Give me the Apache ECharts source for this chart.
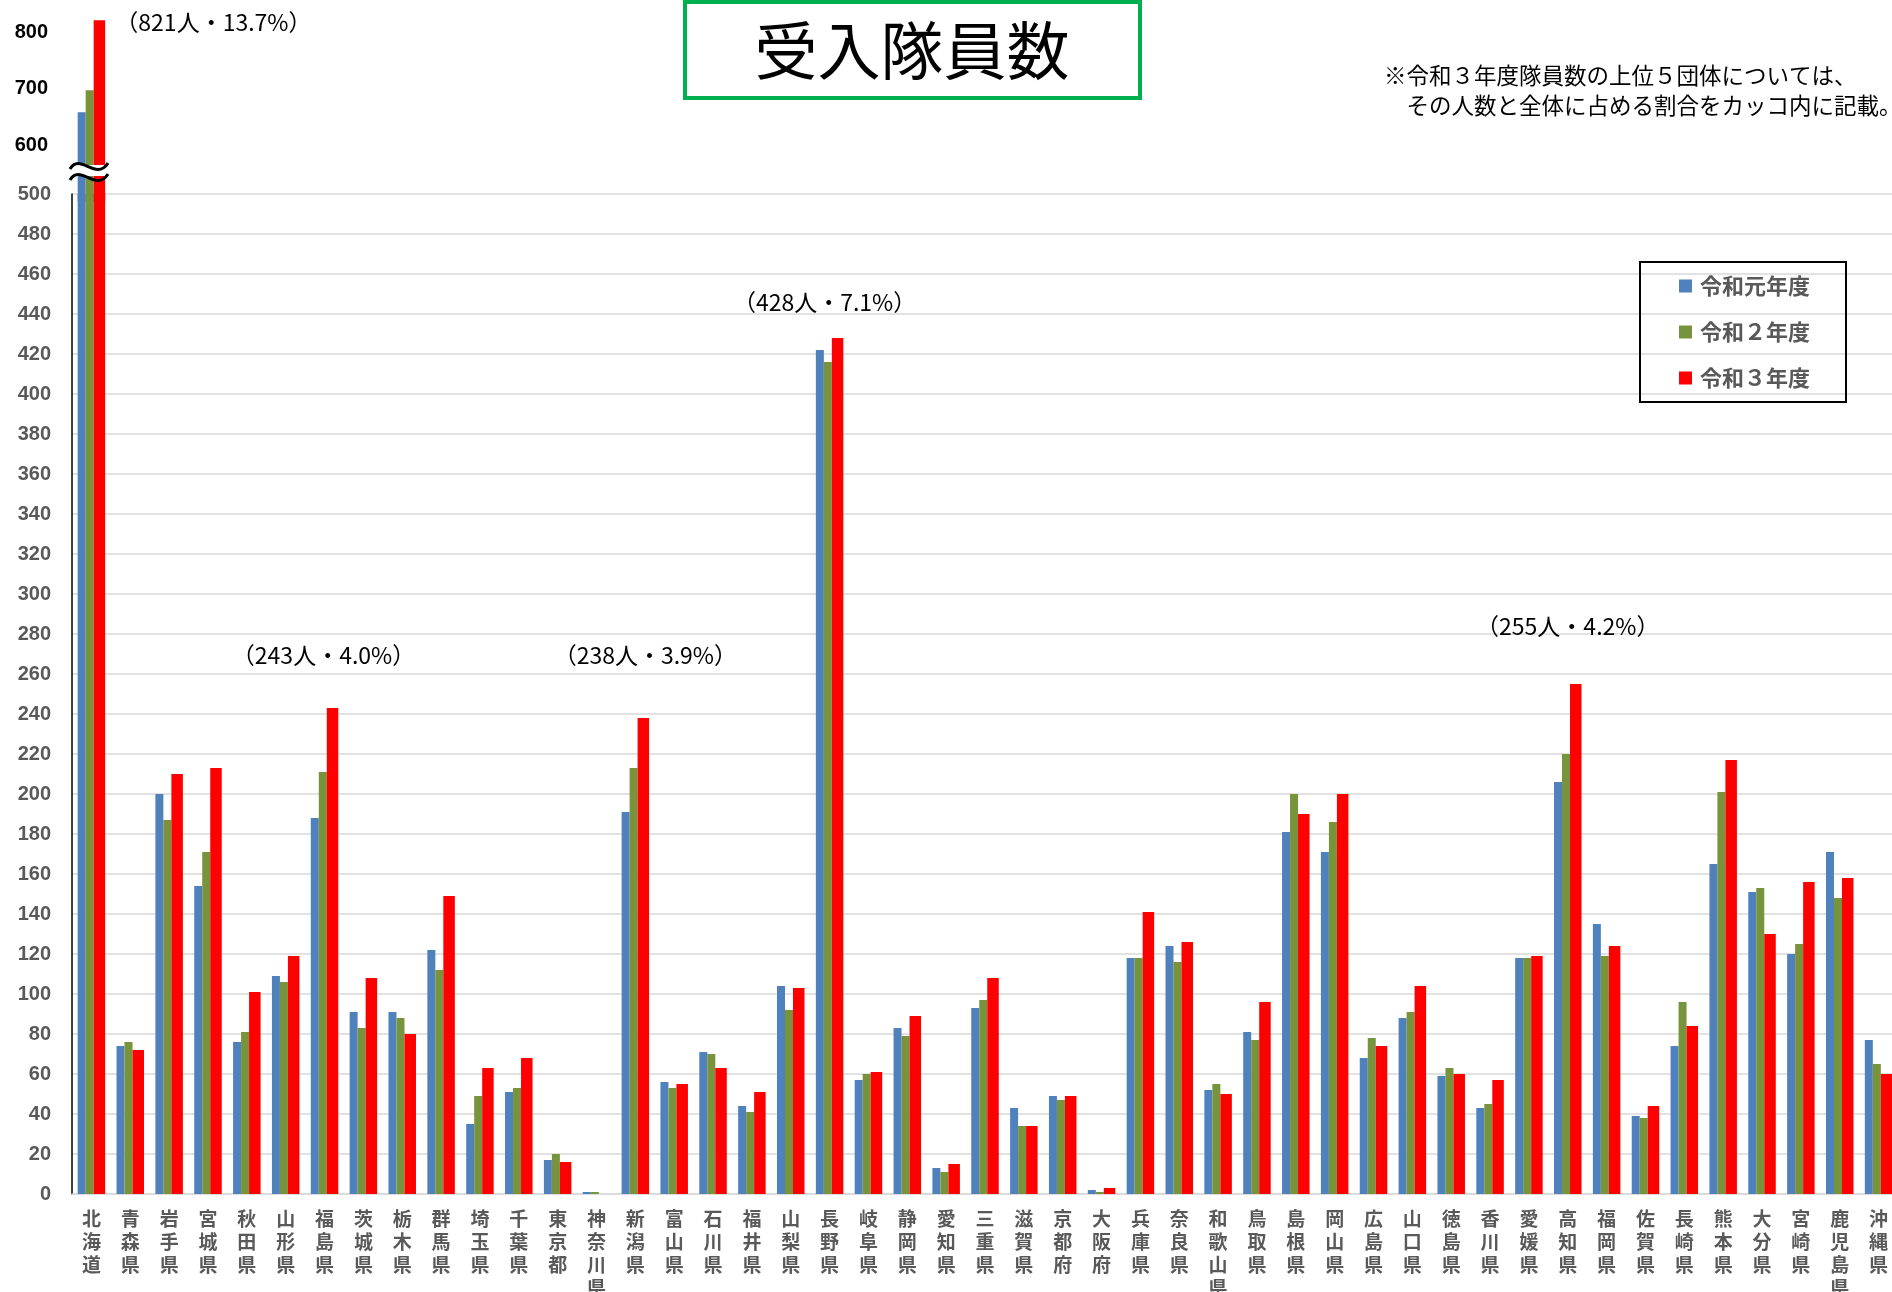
<!DOCTYPE html>
<html lang="ja">
<head>
    <meta charset="UTF-8">
    <title>受入隊員数</title>
    <script src="https://cdn.jsdelivr.net/npm/echarts@6/dist/echarts.min.js"></script>
    <style>
        html, body {margin: 0; padding: 0; background: #fff;}
    </style>
</head>
<body>
<div id="main" style="width: 1892px; height: 1292px"></div>
</body>
<script>
    let prefs = ['北海道','青森県','岩手県','宮城県','秋田県','山形県','福島県','茨城県','栃木県','群馬県',
        '埼玉県','千葉県','東京都','神奈川県','新潟県','富山県','石川県','福井県','山梨県','長野県',
        '岐阜県','静岡県','愛知県','三重県','滋賀県','京都府','大阪府','兵庫県','奈良県','和歌山県',
        '鳥取県','島根県','岡山県','広島県','山口県','徳島県','香川県','愛媛県','高知県','福岡県',
        '佐賀県','長崎県','熊本県','大分県','宮崎県','鹿児島県','沖縄県'];
    let seriesNames = ['令和元年度','令和２年度','令和３年度'];
    let r1 = [658,74,200,154,76,109,188,91,91,122, 35,51,17,1,191,56,71,44,104,422,
        57,83,13,93,43,49,2,118,124,52, 81,181,171,68,88,59,43,118,206,135,
        39,74,165,151,120,171,77];
    let r2 = [697,76,187,171,81,106,211,83,88,112, 49,53,20,1,213,53,70,41,92,416,
        60,79,11,97,34,47,1,118,116,55, 77,200,186,78,91,63,45,118,220,119,
        38,96,201,153,125,148,65];
    let r3 = [821,72,210,213,101,119,243,108,80,149, 63,68,16,0,238,55,63,51,103,428,
        61,89,15,108,34,49,3,141,126,50, 96,190,200,74,104,60,57,119,255,124,
        44,84,217,130,156,158,60];
    // 上位5団体の注記
    let topNames = ['北海道','福島県','新潟県','長野県','高知県'];
    let topTexts = ['（821人・13.7%）','（243人・4.0%）','（238人・3.9%）','（428人・7.1%）','（255人・4.2%）'];
    let lowerTicks = [0, 500, 20];   // min, max, interval
    let upperTicks = [500, 850, 100];

    let colors = ['#4F81BD', '#77933C', '#FF0000'];
    let barWidths = [8, 8, 11.5];
    // 注記ラベルの位置ずれ
    let noteOffsets = {'北海道': [114, 18.5], '福島県': [-9, -36.5], '新潟県': [2, -46.5], '長野県': [-13, -19.5], '高知県': [-8, -41.5]};
    let cutAt = lowerTicks[1];

    let myChart = echarts.init(document.getElementById('main'));

    function withNotes(values, upper) {
        return values.map(function (v, i) {
            let name = prefs[i];
            let k = topNames.indexOf(name);
            let val = upper ? (v > cutAt ? v : '-') : v;
            let wantLabel = k >= 0 && (upper ? v > cutAt : v <= cutAt);
            if (!wantLabel) return val;
            return {
                value: val,
                label: {
                    show: true,
                    position: 'top',
                    formatter: topTexts[k],
                    offset: noteOffsets[name],
                    fontSize: 23,
                    color: '#000',
                    fontFamily: 'Noto Sans CJK JP'
                }
            };
        });
    }

    let allData = [r1, r2, r3];
    let series = [];
    for (let i = 0; i < 3; i++) {
        series.push({
            name: seriesNames[i],
            type: 'bar',
            xAxisIndex: 0,
            yAxisIndex: 0,
            barWidth: barWidths[i],
            barGap: '0%',
            itemStyle: {color: colors[i]},
            data: i === 2 ? withNotes(allData[i], false) : allData[i],
            animation: false
        });
    }
    // 上段（500超）
    for (let i = 0; i < 3; i++) {
        series.push({
            name: seriesNames[i],
            type: 'bar',
            xAxisIndex: 1,
            yAxisIndex: 1,
            barWidth: barWidths[i],
            barGap: '0%',
            itemStyle: {color: colors[i]},
            data: i === 2 ? withNotes(allData[i], true) : allData[i].map(function (v) { return v > cutAt ? v : '-'; }),
            animation: false
        });
    }

    let gridLeft = 72, gridWidth = 1826;
    let option = {
        animation: false,
        textStyle: {fontFamily: 'Noto Sans CJK JP'},
        grid: [
            {left: gridLeft, width: gridWidth, top: 194, height: 1000, outerBoundsMode: 'none'},
            {left: gridLeft, width: gridWidth, top: 4, height: 197.5, outerBoundsMode: 'none'}
        ],
        legend: {
            data: seriesNames,
            orient: 'vertical',
            left: 1640,
            top: 262,
            padding: [13, 36, 13, 39],
            borderColor: '#000',
            borderWidth: 2,
            itemWidth: 13,
            itemHeight: 13,
            itemGap: 24,
            icon: 'rect',
            textStyle: {fontSize: 22, fontWeight: 'bold', color: '#595959', lineHeight: 20, padding: [0, 0, 0, 3]}
        },
        xAxis: [
            {
                type: 'category',
                gridIndex: 0,
                data: prefs,
                axisTick: {show: false},
                axisLine: {lineStyle: {color: '#d9d9d9', width: 1.5}},
                axisLabel: {
                    interval: 0,
                    margin: 13,
                    fontSize: 19,
                    lineHeight: 23,
                    fontWeight: 'bold',
                    color: '#595959',
                    formatter: function (s) { return s.split('').join('\n'); }
                }
            },
            {
                type: 'category',
                gridIndex: 1,
                data: prefs,
                show: false
            }
        ],
        yAxis: [
            {
                type: 'value',
                gridIndex: 0,
                min: lowerTicks[0],
                max: lowerTicks[1],
                interval: lowerTicks[2],
                axisLine: {show: true, lineStyle: {color: '#000', width: 1.5}},
                axisTick: {show: false},
                axisLabel: {margin: 21, fontSize: 20, fontWeight: 'bold', color: '#595959', fontFamily: 'Liberation Sans'},
                splitLine: {lineStyle: {color: '#d9d9d9', width: 1.5}}
            },
            {
                type: 'value',
                gridIndex: 1,
                min: upperTicks[0],
                max: upperTicks[1],
                interval: upperTicks[2],
                axisLine: {show: false},
                axisTick: {show: false},
                splitLine: {show: false},
                axisLabel: {
                    margin: 24, fontSize: 20, fontWeight: 'bold', color: '#000', fontFamily: 'Liberation Sans',
                    formatter: function (v) { return (v > upperTicks[0] && v % upperTicks[2] === 0) ? v : ''; }
                }
            }
        ],
        series: series,
        graphic: [
            { // タイトル枠
                type: 'rect',
                shape: {x: 685, y: 2, width: 455, height: 96},
                style: {fill: '#fff', stroke: '#00B050', lineWidth: 4},
                z: 10
            },
            {
                type: 'text',
                x: 912, y: 50,
                style: {text: '受入隊員数', fontSize: 63, fill: '#000', align: 'center', verticalAlign: 'middle',
                    fontFamily: 'Noto Sans CJK JP'},
                z: 11
            },
            {
                type: 'text',
                x: 1384, y: 60,
                style: {text: '※令和３年度隊員数の上位５団体については、\n　その人数と全体に占める割合をカッコ内に記載。',
                    fontSize: 22.5, lineHeight: 30, fill: '#000', fontFamily: 'Noto Sans CJK JP'},
                z: 11
            },
            { // 軸の省略記号
                type: 'rect',
                shape: {x: 70, y: 165, width: 42, height: 11},
                style: {fill: '#fff'},
                z: 20
            },
            {
                type: 'bezierCurve',
                shape: {x1: 70, y1: 169, cpx1: 80, cpy1: 152, cpx2: 96, cpy2: 182, x2: 108, y2: 163},
                style: {fill: 'none', stroke: '#000', lineWidth: 3},
                z: 21
            },
            {
                type: 'bezierCurve',
                shape: {x1: 70, y1: 180, cpx1: 80, cpy1: 163, cpx2: 96, cpy2: 193, x2: 108, y2: 174},
                style: {fill: 'none', stroke: '#000', lineWidth: 3},
                z: 21
            }
        ]
    };
    myChart.setOption(option);
</script>
</html>
